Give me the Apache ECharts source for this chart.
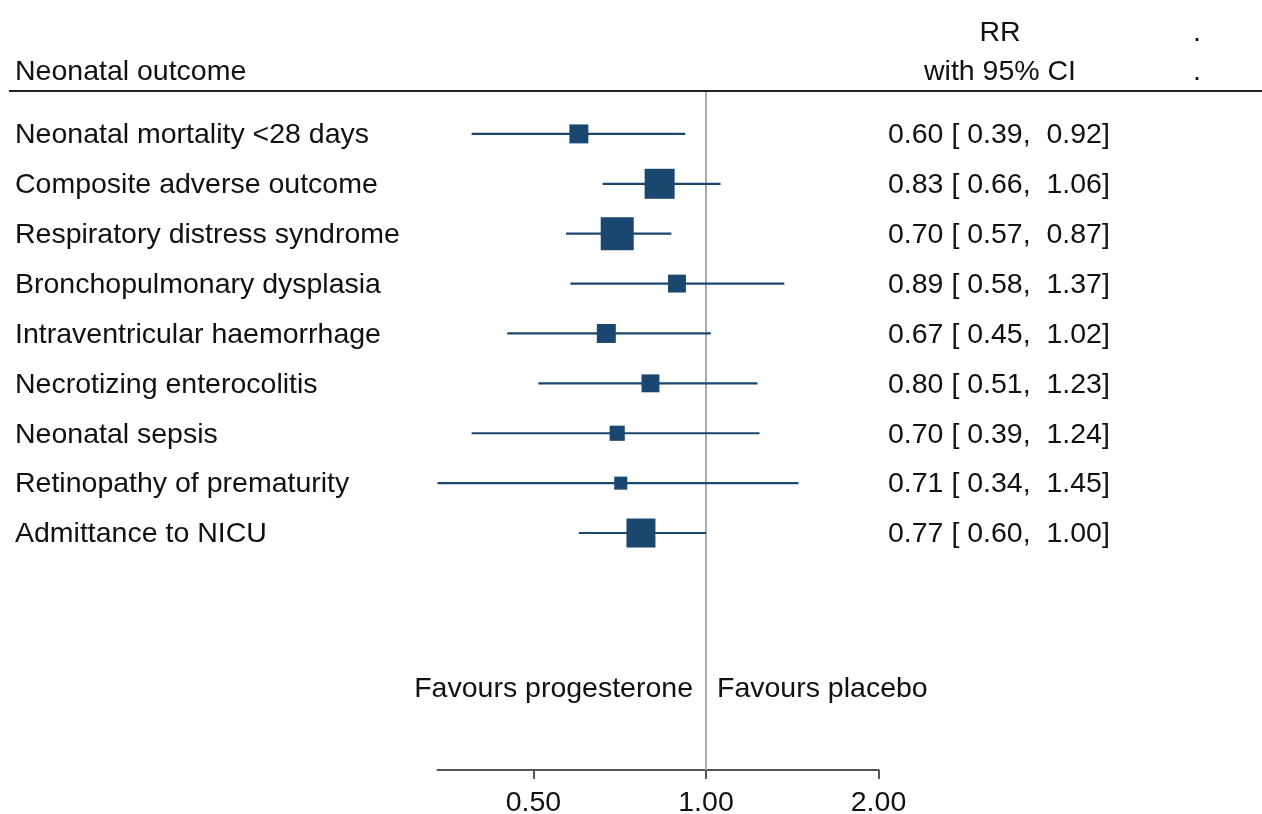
<!DOCTYPE html>
<html>
<head>
<meta charset="utf-8">
<script src="https://cdn.jsdelivr.net/npm/echarts@6/dist/echarts.min.js"></script>
<style>html,body{margin:0;padding:0;background:#fff}#c{width:1262px;height:814px}</style>
</head>
<body>
<div id="c"></div>
<script>
const outcomes = [
  'Neonatal mortality <28 days',
  'Composite adverse outcome',
  'Respiratory distress syndrome',
  'Bronchopulmonary dysplasia',
  'Intraventricular haemorrhage',
  'Necrotizing enterocolitis',
  'Neonatal sepsis',
  'Retinopathy of prematurity',
  'Admittance to NICU'
];
const rr    = [0.60, 0.83, 0.70, 0.89, 0.67, 0.80, 0.70, 0.71, 0.77];
const lower = [0.39, 0.66, 0.57, 0.58, 0.45, 0.51, 0.39, 0.34, 0.60];
const upper = [0.92, 1.06, 0.87, 1.37, 1.02, 1.23, 1.24, 1.45, 1.00];
const weights = [3.6, 9.0, 10.9, 3.2, 3.6, 3.2, 2.3, 1.7, 8.4];
const xTicks = [0.5, 1, 2];
const xMin = 0.34, xMax = 2;

const FONT = 'Liberation Sans, Arial, Helvetica, sans-serif';
const FS = 28.5;
const NAVY = '#1a476f';
const TXT = '#111';
const DY = 1.5;

const data = outcomes.map((name, i) => [rr[i], i + 1, lower[i], upper[i], weights[i], i]);

const chart = echarts.init(document.getElementById('c'));
chart.setOption({
  backgroundColor: '#fff',
  animation: false,
  grid: { left: 437.5, right: 383.5, top: 91, bottom: 44, containLabel: false, outerBoundsMode: 'none' },
  xAxis: {
    type: 'log', logBase: 2, min: xMin, max: xMax,
    axisLine: { show: true, lineStyle: { color: '#555', width: 2 } },
    axisTick: { show: true, length: 9, lineStyle: { color: '#555', width: 2 }, customValues: xTicks },
    axisLabel: { customValues: xTicks, formatter: v => Number(v).toFixed(2), fontSize: FS, fontFamily: FONT, color: TXT, margin: 19 },
    splitLine: { show: false },
    minorTick: { show: false }
  },
  yAxis: {
    type: 'value', inverse: true, min: 0.14, max: 13.75, show: false
  },
  graphic: [
    { type: 'line', shape: { x1: 9, y1: 91, x2: 1262, y2: 91 }, style: { stroke: '#222', lineWidth: 2 }, z: 10 },
    { type: 'text', x: 15, y: 72.5, style: { text: 'Neonatal outcome', fontSize: FS, fontFamily: FONT, fill: TXT, align: 'left', verticalAlign: 'middle' } },
    { type: 'text', x: 1000, y: 33.5, style: { text: 'RR', fontSize: FS, fontFamily: FONT, fill: TXT, align: 'center', verticalAlign: 'middle' } },
    { type: 'text', x: 1000, y: 72.5, style: { text: 'with 95% CI', fontSize: FS, fontFamily: FONT, fill: TXT, align: 'center', verticalAlign: 'middle' } },
    { type: 'text', x: 1193, y: 33.5, style: { text: '.', fontSize: FS, fontFamily: FONT, fill: TXT, align: 'left', verticalAlign: 'middle' } },
    { type: 'text', x: 1193, y: 72.5, style: { text: '.', fontSize: FS, fontFamily: FONT, fill: TXT, align: 'left', verticalAlign: 'middle' } },
    { type: 'text', x: 693, y: 689.5, style: { text: 'Favours progesterone', fontSize: FS, fontFamily: FONT, fill: TXT, align: 'right', verticalAlign: 'middle' } },
    { type: 'text', x: 717, y: 689.5, style: { text: 'Favours placebo', fontSize: FS, fontFamily: FONT, fill: TXT, align: 'left', verticalAlign: 'middle' } }
  ],
  series: [{
    type: 'custom',
    data: data,
    encode: { x: [0, 2, 3], y: 1 },
    clip: false,
    renderItem: function (params, api) {
      const est = api.value(0), row = api.value(1), lo = api.value(2), hi = api.value(3), w = api.value(4);
      const idx = api.value(5);
      const pLo = api.coord([lo, row]);
      const pHi = api.coord([hi, row]);
      const pE = api.coord([est, row]);
      const s = 10 * Math.sqrt(w);
      const txt = est.toFixed(2) + ' [ ' + lo.toFixed(2) + ',  ' + hi.toFixed(2) + ']';
      return {
        type: 'group',
        children: [
          { type: 'line', shape: { x1: pLo[0], y1: pLo[1], x2: pHi[0], y2: pHi[1] }, style: { stroke: NAVY, lineWidth: 2.2 } },
          { type: 'rect', shape: { x: pE[0] - s / 2, y: pE[1] - s / 2, width: s, height: s }, style: { fill: NAVY } },
          { type: 'text', style: { x: 15, y: pE[1] + DY, text: outcomes[idx], fontSize: FS, fontFamily: FONT, fill: TXT, align: 'left', verticalAlign: 'middle' } },
          { type: 'text', style: { x: 888, y: pE[1] + DY, text: txt, fontSize: FS, fontFamily: FONT, fill: TXT, align: 'left', verticalAlign: 'middle' } }
        ]
      };
    },
    markLine: {
      silent: true,
      symbol: 'none',
      label: { show: false },
      lineStyle: { color: '#aaaaaa', width: 2, type: 'solid' },
      data: [{ xAxis: 1 }],
      z: 1
    }
  }]
});
</script>
</body>
</html>
